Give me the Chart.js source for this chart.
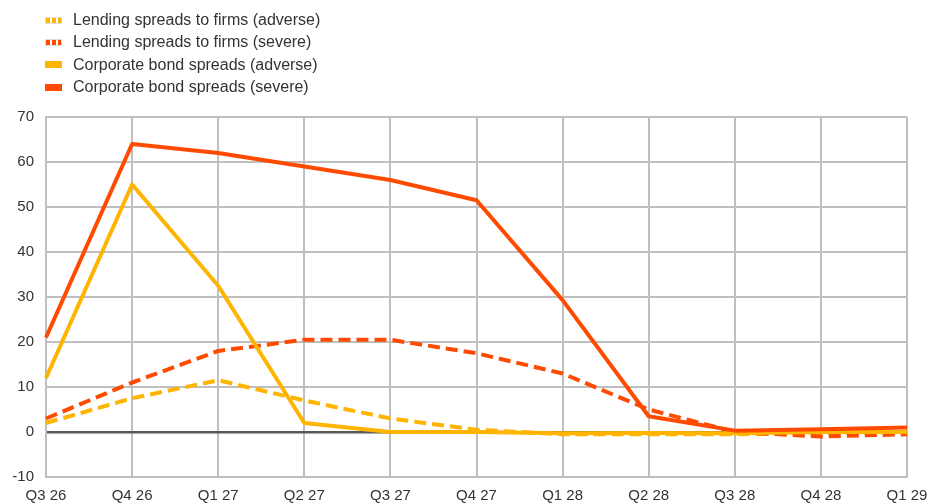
<!DOCTYPE html>
<html>
<head>
<meta charset="utf-8">
<script src="https://cdn.jsdelivr.net/npm/chart.js@4"></script>
<style>
  body { margin: 0; background: #fff; }
  #wrap { position: relative; width: 929px; height: 503px; }
  #legend { position: absolute; left: 45px; top: 9px; font: 16px "Liberation Sans", Arial, sans-serif; color: #333; }
  .item { height: 22.4px; line-height: 22.4px; display: flex; align-items: center; }
  .mark { width: 17px; height: 7px; margin-right: 11px; box-sizing: border-box; }
</style>
</head>
<body>
<div id="wrap">
  <canvas id="spreadsChart" width="929" height="503"></canvas>
  <div id="legend"></div>
</div>
<script>
// Quarter labels
const quarters = ['Q3 26', 'Q4 26', 'Q1 27', 'Q2 27', 'Q3 27', 'Q4 27', 'Q1 28', 'Q2 28', 'Q3 28', 'Q4 28', 'Q1 29'];

// Series values (basis points)
const lendingAdverse = [2, 7.5, 11.5, 7, 3, 0.5, -0.5, -0.5, -0.5, -0.3, 0];
const lendingSevere = [3, 11, 18, 20.5, 20.5, 17.5, 13, 5, 0, -1, -0.5];
const bondAdverse = [12, 55, 32.5, 2, 0, 0, -0.3, -0.2, -0.3, 0, 0];
const bondSevere = [21, 64, 62, 59, 56, 51.5, 29.3, 3.5, 0.3, 0.6, 1];

const yellow = '#FFB400';
const red = '#FF4B00';

const series = [
    { label: 'Lending spreads to firms (adverse)', data: lendingAdverse, color: yellow, dashed: true, order: 3 },
    { label: 'Lending spreads to firms (severe)', data: lendingSevere, color: red, dashed: true, order: 2 },
    { label: 'Corporate bond spreads (adverse)', data: bondAdverse, color: yellow, dashed: false, order: 1 },
    { label: 'Corporate bond spreads (severe)', data: bondSevere, color: red, dashed: false, order: 0 }
];

// Build the html legend
const legendEl = document.getElementById('legend');
series.forEach(s => {
    const item = document.createElement('div');
    item.className = 'item';
    const mark = document.createElement('span');
    mark.className = 'mark';
    if (s.dashed) {
        mark.style.background = 'repeating-linear-gradient(90deg, ' + s.color + ' 0 4px, #fff 4px 6px)';
        mark.style.border = '1px solid #ddd';
    } else {
        mark.style.background = s.color;
    }
    item.appendChild(mark);
    const txt = document.createElement('span');
    txt.textContent = s.label;
    item.appendChild(txt);
    legendEl.appendChild(item);
});

const ctx = document.getElementById('spreadsChart').getContext('2d');
const spreadsChart = new Chart(ctx, {
    type: 'line',
    data: {
        labels: quarters,
        datasets: series.map(s => ({
            label: s.label,
            data: s.data,
            borderColor: s.color,
            backgroundColor: s.color,
            borderWidth: 4,
            borderDash: s.dashed ? [12, 6] : [],
            borderCapStyle: 'butt',
            borderJoinStyle: 'round',
            pointRadius: 0,
            tension: 0,
            fill: false,
            order: s.order
        }))
    },
    options: {
        responsive: false,
        animation: false,
        layout: { padding: { top: 117, right: 22, left: 0, bottom: 0 } },
        plugins: {
            legend: { display: false },
            tooltip: { enabled: false }
        },
        scales: {
            x: {
                offset: false,
                grid: { color: '#bfbfbf', lineWidth: 2, drawTicks: false },
                border: { color: '#bfbfbf', width: 2 },
                ticks: {
                    color: '#333',
                    font: { family: '"Liberation Sans", Arial, sans-serif', size: 15 },
                    padding: 10,
                    maxRotation: 0,
                    autoSkip: false
                },
                afterFit: function(scale) {
                    scale.height = 26;
                    scale.paddingRight = 0;
                    scale.paddingLeft = 0;
                }
            },
            y: {
                min: -10,
                max: 70,
                grid: {
                    color: c => c.tick.value === 0 ? '#595959' : '#bfbfbf',
                    lineWidth: c => c.tick.value === 0 ? 2.5 : 2,
                    drawTicks: false
                },
                border: { color: '#bfbfbf', width: 2 },
                ticks: {
                    stepSize: 10,
                    color: '#333',
                    font: { family: '"Liberation Sans", Arial, sans-serif', size: 15 },
                    padding: 12
                },
                afterFit: function(scale) { scale.width = 46; }
            }
        }
    }
});
</script>
</body>
</html>
